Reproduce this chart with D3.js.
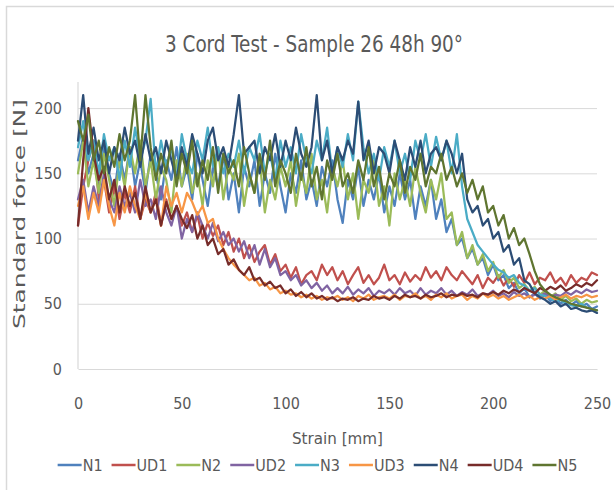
<!DOCTYPE html>
<html><head><meta charset="utf-8">
<script src="https://cdn.jsdelivr.net/npm/d3@7"></script>
<style>
body{margin:0;background:#fff}
svg{display:block}
text{font-family:"DejaVu Sans Condensed","DejaVu Sans",sans-serif;fill:#595959}
</style>
</head><body>
<svg id="chart" width="614" height="490"></svg>
<script>
const titleText = "3 Cord Test - Sample 26 48h 90°";
const xTitle = "Strain [mm]";
const yTitle = "Standard force [N]";
const seriesNames = ["N1","UD1","N2","UD2","N3","UD3","N4","UD4","N5"];
const seriesColors = ["#4F81BD","#C0504D","#9BBB59","#8064A2","#4BACC6","#F79646","#2C4D75","#772C2A","#5F7530"];
const xTicks = [0,50,100,150,200,250];
const yTicks = [0,50,100,150,200];

const strain = [0,2.5,5,7.5,10,12.5,15,17.5,20,22.5,
25,27.5,30,32.5,35,37.5,40,42.5,45,47.5,
50,52.5,55,57.5,60,62.5,65,67.5,70,72.5,
75,77.5,80,82.5,85,87.5,90,92.5,95,97.5,
100,102.5,105,107.5,110,112.5,115,117.5,120,122.5,
125,127.5,130,132.5,135,137.5,140,142.5,145,147.5,
150,152.5,155,157.5,160,162.5,165,167.5,170,172.5,
175,177.5,180,182.5,185,187.5,190,192.5,195,197.5,
200,202.5,205,207.5,210,212.5,215,217.5,220,222.5,
225,227.5,230,232.5,235,237.5,240,242.5,245,247.5,
250];

const N1 = [160,178,150,165,140,170,150,135,165,145,
170,140,160,135,165,150,130,160,145,170,
140,155,130,165,145,125,155,140,165,130,
150,120,155,140,160,125,150,135,165,140,
120,150,135,160,130,145,125,155,140,160,
130,112,145,130,155,125,145,130,150,120,
140,125,150,130,145,115,140,125,145,115,
130,105,115,95,100,85,92,80,85,72,
80,68,72,62,66,58,62,55,58,54,
57,52,55,50,53,49,52,48,50,46,
48];

const UD1 = [110,140,160,175,130,145,120,140,115,135,
120,140,115,130,120,135,110,130,115,125,
110,120,105,118,100,112,102,110,95,105,
90,100,85,95,82,90,95,80,88,75,
80,70,78,65,72,75,68,80,72,78,
68,75,65,72,78,66,72,65,70,80,
68,72,65,74,67,72,68,78,70,75,
68,78,72,68,75,70,65,72,62,70,
66,72,64,70,63,72,66,74,65,70,
68,74,66,70,64,72,66,70,68,74,
72];

const N2 = [150,175,140,160,135,165,145,125,160,140,
170,150,175,140,160,130,155,145,120,160,
140,165,135,150,125,160,140,170,130,155,
145,165,125,150,135,160,120,145,130,155,
140,160,125,150,135,165,130,145,120,155,
140,160,130,150,115,145,135,160,125,140,
110,150,130,145,125,155,135,120,145,130,
150,115,120,95,105,85,95,80,88,75,
82,70,76,66,70,62,65,60,63,57,
60,55,58,53,56,52,54,50,53,51,
52];

const UD2 = [130,145,120,140,125,150,130,120,140,125,
135,120,145,125,130,115,140,120,110,125,
100,115,105,120,110,100,112,98,105,95,
100,90,98,85,95,80,92,78,85,72,
75,68,72,64,68,62,66,60,64,58,
62,58,63,57,61,58,62,56,60,58,
61,57,62,58,60,56,62,57,60,58,
62,57,60,56,59,57,61,56,58,57,
60,56,58,55,59,56,58,55,57,56,
58,55,57,56,59,57,60,58,61,59,
60];

const N3 = [170,190,160,175,150,180,160,170,145,175,
155,185,160,175,207,150,175,155,170,145,
180,160,150,175,160,185,155,170,150,165,
155,175,150,170,160,180,150,165,145,175,
155,170,150,180,160,150,175,160,185,150,
170,155,180,160,205,170,150,165,145,170,
155,175,150,165,145,175,160,180,155,178,
160,175,150,180,140,115,105,95,90,85,
80,76,74,70,72,66,64,60,62,57,
56,54,52,53,50,49,48,50,47,46,
45];

const UD3 = [125,140,115,135,120,145,125,110,135,120,
140,125,115,135,120,130,110,140,125,135,
120,135,128,118,125,112,115,100,92,85,
80,76,72,68,70,64,66,61,63,58,
60,57,58,55,57,54,56,53,55,54,
56,53,55,52,56,54,57,53,55,56,
54,57,53,56,55,58,54,56,53,57,
55,58,54,56,57,53,56,54,58,55,
57,54,56,53,55,57,54,56,53,55,
54,56,53,55,57,54,56,55,57,55,
56];

const N4 = [175,210,165,185,160,175,150,170,160,185,
165,175,155,180,160,170,150,175,160,145,
170,155,180,165,150,175,185,160,170,155,
180,210,165,170,175,150,170,160,180,155,
175,160,185,165,155,170,210,160,175,150,
170,160,175,165,205,160,175,150,170,165,
150,175,160,145,170,155,175,150,165,170,
160,175,165,150,165,130,120,125,110,115,
100,105,90,95,80,85,68,65,58,55,
53,50,52,48,50,46,47,45,44,45,
43];

const UD4 = [110,160,200,165,145,155,130,145,120,140,
125,135,115,140,120,130,110,128,115,125,
115,108,118,100,110,95,100,88,92,80,
84,76,72,78,68,70,64,67,62,64,
58,61,56,59,55,58,54,56,53,55,
52,54,53,55,52,54,53,56,54,55,
53,56,54,57,55,56,54,57,55,56,
58,55,57,56,58,56,57,55,58,57,
59,57,60,58,61,59,62,60,58,62,
60,63,61,64,60,62,65,63,66,64,
68];

const N5 = [190,175,195,160,175,150,170,155,180,160,
175,210,160,210,170,145,165,150,175,140,
165,150,175,140,160,145,170,135,165,150,
160,140,170,150,135,165,145,175,140,160,
150,135,165,145,170,140,155,130,160,145,
165,140,150,135,160,145,170,140,155,130,
150,140,160,135,155,145,165,140,155,150,
165,145,155,140,150,135,145,130,140,120,
125,110,118,100,108,95,100,88,75,65,
60,57,55,53,52,50,49,48,47,46,
45];

const seriesValues = [N1,UD1,N2,UD2,N3,UD3,N4,UD4,N5];
const series = seriesNames.map((name,i)=>({name,color:seriesColors[i],
  points:strain.map((s,j)=>({x:s,y:seriesValues[i][j]}))}));

const svg = d3.select("#chart");
const plot = {left:78,right:597,top:82,bottom:369};
const FONT = '"DejaVu Sans Condensed","DejaVu Sans",sans-serif';

// outer border
svg.append("rect").attr("x",6.5).attr("y",6.5).attr("width",700).attr("height",600)
  .attr("fill","#fff").attr("stroke","#D9D9D9").attr("stroke-width",1.5);

const x = d3.scaleLinear().domain([0,250]).range([plot.left,plot.right]);
const y = d3.scaleLinear().domain([0,220]).range([plot.bottom,plot.top]);

// gridlines
const grid = svg.append("g").attr("transform",`translate(${plot.left},0)`)
  .call(d3.axisLeft(y).tickValues(yTicks.filter(v=>v>0)).tickSize(-(plot.right-plot.left)).tickFormat(""));
grid.select(".domain").remove();
grid.selectAll("line").attr("stroke","#D9D9D9").attr("stroke-width",1);

// y axis line
svg.append("line").attr("x1",plot.left).attr("x2",plot.left).attr("y1",plot.top).attr("y2",plot.bottom)
  .attr("stroke","#D9D9D9").attr("stroke-width",1.2);
// x axis
const xa = svg.append("g").attr("transform",`translate(0,${plot.bottom})`)
  .call(d3.axisBottom(x).tickValues(xTicks).tickSize(0).tickPadding(29).tickFormat(d3.format("d")));
xa.select(".domain").attr("stroke","#D9D9D9").attr("stroke-width",1.2);
xa.selectAll("text").attr("font-size",16).style("font-family",FONT).attr("fill","#595959");

const ya = svg.append("g").attr("transform",`translate(${plot.left},0)`)
  .call(d3.axisLeft(y).tickValues(yTicks).tickSize(0).tickPadding(16).tickFormat(d3.format("d")));
ya.select(".domain").remove();
ya.selectAll("text").attr("font-size",16).style("font-family",FONT).attr("fill","#595959");

// lines
const line = d3.line().x(d=>x(d.x)).y(d=>y(d.y));
const lg = svg.append("g");
series.forEach(s=>{
  lg.append("path").datum(s.points).attr("d",line).attr("fill","none")
    .attr("stroke",s.color).attr("stroke-width",2.25).attr("stroke-linejoin","round").attr("stroke-linecap","round");
});

// title
svg.append("text").attr("x",314).attr("y",52).attr("text-anchor","middle")
  .attr("font-size",23).attr("textLength",298).attr("lengthAdjust","spacingAndGlyphs").text(titleText);

// axis titles
svg.append("text").attr("x",337.5).attr("y",444).attr("text-anchor","middle")
  .attr("font-size",16).attr("textLength",91).attr("lengthAdjust","spacingAndGlyphs").text(xTitle);
svg.append("text").attr("transform","translate(25,214) rotate(-90)").attr("text-anchor","middle")
  .attr("font-size",16).attr("textLength",230).attr("lengthAdjust","spacingAndGlyphs").text(yTitle);

// legend
const leg = svg.append("g");
let cx = 0;
series.forEach(s=>{
  const g = leg.append("g").attr("transform",`translate(${cx},0)`);
  g.append("line").attr("x1",0).attr("x2",24).attr("y1",0).attr("y2",0)
    .attr("stroke",s.color).attr("stroke-width",2.5);
  const t = g.append("text").attr("x",25).attr("y",6).attr("font-size",16).text(s.name);
  cx += 25 + t.node().getComputedTextLength() + 9;
});
const legW = cx - 9;
leg.attr("transform",`translate(${317.5-legW/2},465)`);
</script>
</body></html>
